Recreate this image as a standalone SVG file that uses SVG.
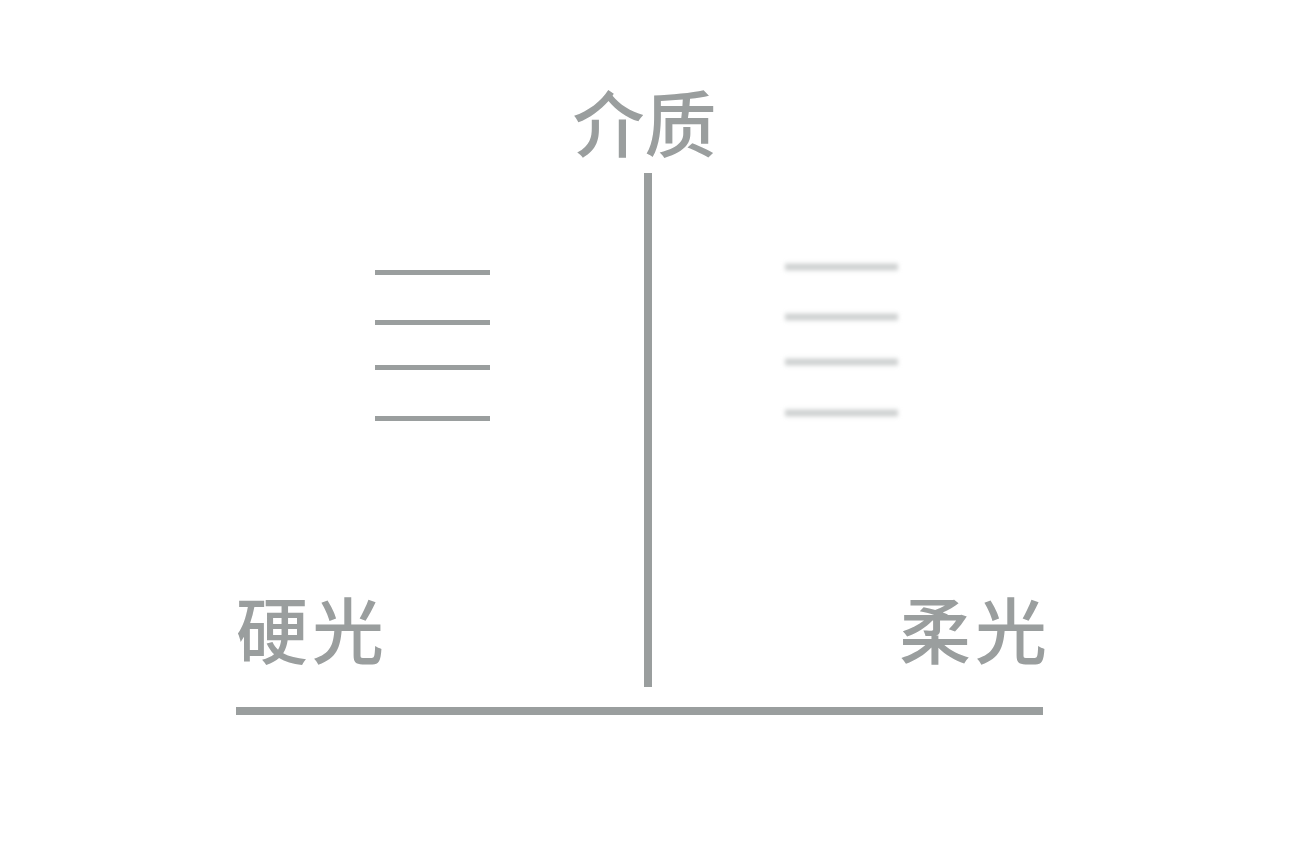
<svg xmlns="http://www.w3.org/2000/svg" width="1298" height="861" viewBox="0 0 1298 861">
<style>
.t{font-family:"Noto Sans CJK SC","Noto Sans",sans-serif;font-size:72px;fill:#9a9e9e;font-weight:500}
.hard{stroke:#9a9e9e;stroke-width:5}
.soft{stroke:#cfd1d1;stroke-width:7}
.axis{stroke:#9a9e9e;stroke-width:8}
</style>
<defs>
<filter id="blur" filterUnits="userSpaceOnUse" x="760" y="240" width="170" height="200"><feGaussianBlur stdDeviation="2"/></filter>
</defs>
<rect width="1298" height="861" fill="#ffffff"/>
<g id="connectors">
<line class="axis" x1="648" y1="173" x2="648" y2="687"/>
<line class="axis" x1="236" y1="711" x2="1043" y2="711"/>
</g>
<g id="hard-light-lines">
<line class="hard" x1="375" y1="272.5" x2="490" y2="272.5"/>
<line class="hard" x1="375" y1="322.5" x2="490" y2="322.5"/>
<line class="hard" x1="375" y1="367.5" x2="490" y2="367.5"/>
<line class="hard" x1="375" y1="418.5" x2="490" y2="418.5"/>
</g>
<g id="soft-light-lines" filter="url(#blur)">
<line class="soft" x1="785" y1="267" x2="898" y2="267"/>
<line class="soft" x1="785" y1="317" x2="898" y2="317"/>
<line class="soft" x1="785" y1="362" x2="898" y2="362"/>
<line class="soft" x1="785" y1="413" x2="898" y2="413"/>
</g>
<g id="medium"><text class="t" x="644.5" y="151" text-anchor="middle">介质</text></g>
<g id="hard"><text class="t" x="236" y="658" letter-spacing="4">硬光</text></g>
<g id="soft"><text class="t" x="899" y="658" letter-spacing="4">柔光</text></g>
</svg>
